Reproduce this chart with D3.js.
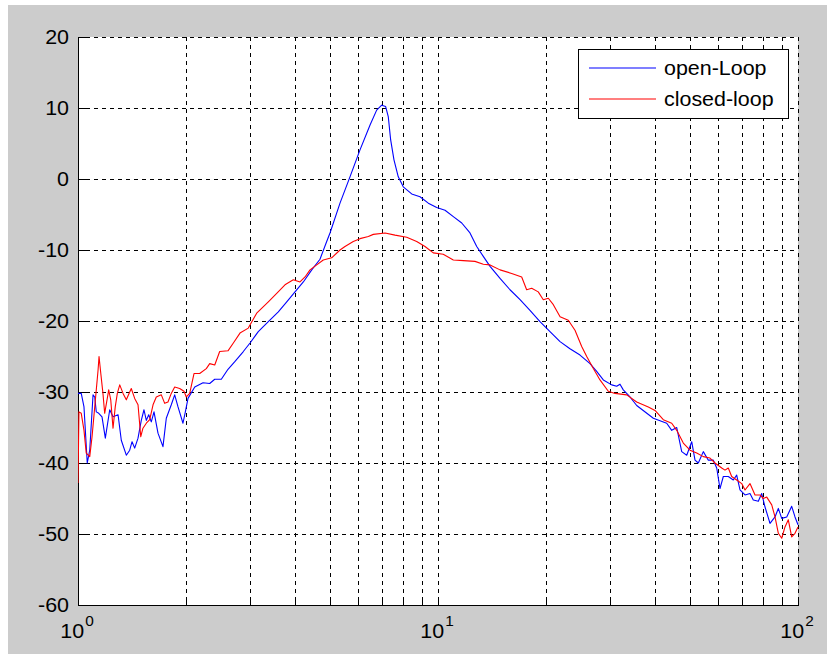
<!DOCTYPE html>
<html>
<head>
<meta charset="utf-8">
<script src="https://cdn.jsdelivr.net/npm/d3@7"></script>
<style>
  html, body { margin: 0; padding: 0; background: #ffffff; }
  svg { display: block; }
  text { font-family: "Liberation Sans", Arial, Helvetica, sans-serif; fill: #000; }
</style>
</head>
<body>
<svg id="chart" width="827" height="654"></svg>
<script>
// ---- data ----
const seriesNames = ["open-Loop", "closed-loop"];
const seriesColors = ["#0000ff", "#ff0000"];

const blueFreq = [1.000,1.021,1.039,1.061,1.078,1.101,1.113,1.124,1.142,1.166,1.191,1.225,1.251,1.292,1.319,1.362,1.392,1.413,1.437,1.468,1.499,1.525,1.548,1.572,1.598,1.626,1.668,1.722,1.759,1.816,1.856,1.896,1.957,1.987,2.021,2.110,2.225,2.322,2.398,2.501,2.610,2.730,2.879,3.005,3.168,3.378,3.601,3.800,4.007,4.226,4.460,4.701,4.907,5.012,5.343,5.695,6.072,6.475,6.755,6.975,7.155,7.275,7.388,7.546,7.756,8.008,8.451,8.913,9.399,9.918,10.46,11.03,11.64,12.27,12.81,13.36,13.95,14.87,15.85,16.90,18.01,19.20,20.47,21.83,23.26,24.80,26.44,27.59,28.79,30.38,31.36,32.03,32.71,34.15,35.64,39.64,43.18,44.59,46.04,47.53,49.08,50.67,51.75,52.86,54.57,56.35,58.18,59.46,60.72,62.02,64.03,66.11,67.56,69.01,71.26,73.56,75.13,77.58,79.29,80.98,83.61,86.33,88.18,90.11,93.04,96.05,98.10,100];
const blueDb = [-30.2,-30.2,-32.1,-40,-38.2,-30.4,-30.7,-32.8,-33,-33.5,-36.5,-32.5,-33.5,-33.2,-36.8,-38.9,-38.2,-37,-37.9,-36.5,-34,-32.5,-34,-33.2,-34.2,-32.8,-35.8,-37.7,-33.7,-31.8,-30.4,-32.1,-34.4,-32.8,-30.9,-29.3,-28.7,-28.8,-28.2,-28.2,-26.8,-25.7,-24.3,-23.1,-21.5,-20.1,-18.7,-17.3,-15.9,-14.5,-12.8,-11.3,-8.8,-7.6,-3.4,0.3,4.1,7.6,9.7,10.4,10.2,8.8,5.5,2.7,0.3,-1.1,-2.1,-2.5,-3.4,-4.0,-4.4,-5.3,-6.2,-7.6,-9.5,-10.9,-12.3,-14.0,-15.6,-17,-18.5,-20.1,-21.5,-22.9,-23.9,-24.8,-26,-27.1,-28.3,-29,-29.2,-28.9,-29.7,-30.7,-31.9,-33.7,-34.4,-35.4,-35.0,-38.4,-38.9,-37,-39.6,-40,-38.4,-39.6,-39.6,-40.7,-43.6,-41.9,-41.9,-42.4,-41.7,-43.8,-44.5,-44.3,-45.2,-45.4,-44.3,-46.2,-48.5,-47.6,-46.4,-47.8,-47.6,-46.1,-47.6,-48.7];

const redFreq = [1.000,1.006,1.021,1.039,1.054,1.078,1.094,1.113,1.124,1.137,1.144,1.157,1.173,1.186,1.206,1.217,1.233,1.251,1.269,1.286,1.306,1.334,1.362,1.406,1.437,1.468,1.494,1.515,1.548,1.582,1.616,1.650,1.704,1.741,1.778,1.816,1.856,1.916,1.970,1.999,2.043,2.100,2.178,2.272,2.322,2.398,2.475,2.610,2.701,2.818,2.972,3.136,3.378,3.564,3.758,3.963,4.137,4.272,4.411,4.603,4.801,5.066,5.343,5.516,5.816,6.072,6.404,6.612,7.126,7.597,8.188,8.726,9.202,9.703,10.34,11.03,11.76,12.67,13.36,13.95,14.87,16.02,17.08,17.63,18.21,18.99,19.61,20.25,20.91,21.83,23.01,24.02,25.07,25.89,27.01,28.18,29.72,31.02,33.44,35.64,38.39,40.07,42.25,44.59,46.04,48.02,50.12,52.32,54.57,56.95,58.81,61.38,62.69,64.03,65.43,67.56,69.77,71.26,73.56,75.96,78.42,80.11,81.88,84.54,86.33,88.18,90.11,92.02,93.99,96.05,98.10,100];
const redDb = [-42.8,-32.8,-33,-35.4,-38.6,-39.1,-36.3,-32.1,-29.7,-26.9,-25,-27.4,-30.2,-33,-30.9,-29.7,-31.1,-35.1,-32.1,-30.2,-29,-30.2,-31.1,-29.5,-30.9,-31.8,-36.3,-35.1,-34.4,-33.9,-31.8,-30.7,-30.4,-31.6,-31.4,-30.2,-29.3,-29.5,-29.9,-30.7,-30.2,-27.4,-27.4,-26.7,-26,-26.2,-24.3,-24.2,-23.1,-21.7,-21.0,-18.9,-17.3,-16.1,-14.9,-14.2,-14.5,-13.8,-12.8,-12.1,-11.4,-11.1,-10,-9.5,-8.8,-8.4,-8.1,-7.8,-7.6,-7.9,-8.2,-8.8,-9.5,-10.4,-10.6,-11.4,-11.5,-11.6,-12.0,-12.1,-12.8,-13.3,-13.8,-15.6,-15.4,-15.9,-17,-16.8,-17.7,-19.4,-19.9,-21.3,-23.6,-25,-26.7,-28.3,-29.9,-30.2,-30.4,-31.4,-32.1,-32.6,-33.9,-34.4,-35.4,-37.2,-38.2,-38.6,-39.1,-39.3,-40,-40.7,-41.0,-40.7,-41.9,-42.4,-42.9,-43.8,-42.9,-44.5,-44.5,-45,-44.8,-45.9,-47.6,-49.9,-50.6,-49,-48,-50.4,-49.9,-49];

const yTicks = [20, 10, 0, -10, -20, -30, -40, -50, -60];
const xMajor = [1, 10, 100];
const xMajorExp = ["0", "1", "2"];
const xMinor = [2, 3, 4, 5, 6, 7, 8, 9, 20, 30, 40, 50, 60, 70, 80, 90];

// ---- layout ----
const L = 78, R = 798, T = 37, B = 605;
const svg = d3.select("#chart");
const x = d3.scaleLog().domain([1, 100]).range([L, R]);
const y = d3.scaleLinear().domain([-60, 20]).range([B, T]);

// figure background (thin white border at top / left like the original)
svg.append("rect").attr("x", 0).attr("y", 0).attr("width", 827).attr("height", 654).attr("fill", "#ffffff");
svg.append("rect").attr("x", 8).attr("y", 5).attr("width", 819).attr("height", 649).attr("fill", "#cccccc");
svg.append("rect").attr("x", L).attr("y", T).attr("width", R - L).attr("height", B - T).attr("fill", "#ffffff");

// grid
const grid = svg.append("g").attr("stroke", "#000").attr("stroke-width", 1)
  .attr("stroke-dasharray", "4,4").attr("shape-rendering", "crispEdges");
grid.selectAll("line.h").data(yTicks).join("line").attr("class", "h")
  .attr("x1", L).attr("x2", R).attr("y1", d => Math.round(y(d)) + 0.5).attr("y2", d => Math.round(y(d)) + 0.5);
grid.selectAll("line.v").data(xMajor.concat(xMinor)).join("line").attr("class", "v")
  .attr("y1", T).attr("y2", B).attr("x1", d => Math.round(x(d)) + 0.5).attr("x2", d => Math.round(x(d)) + 0.5);

// axes (left and bottom, ticks inside)
const axisG = svg.append("g").attr("stroke", "#000").attr("stroke-width", 1).attr("shape-rendering", "crispEdges");
axisG.append("line").attr("x1", L + 0.5).attr("x2", L + 0.5).attr("y1", T).attr("y2", B + 1);
axisG.append("line").attr("x1", L).attr("x2", R + 1).attr("y1", B + 0.5).attr("y2", B + 0.5);
axisG.selectAll("line.yt").data(yTicks).join("line").attr("class", "yt")
  .attr("x1", L).attr("x2", L + 8).attr("y1", d => Math.round(y(d)) + 0.5).attr("y2", d => Math.round(y(d)) + 0.5);
axisG.selectAll("line.xt").data(xMajor).join("line").attr("class", "xt")
  .attr("y1", B).attr("y2", B - 8).attr("x1", d => Math.round(x(d)) + 0.5).attr("x2", d => Math.round(x(d)) + 0.5);
axisG.selectAll("line.xm").data(xMinor).join("line").attr("class", "xm")
  .attr("y1", B).attr("y2", B - 4).attr("x1", d => Math.round(x(d)) + 0.5).attr("x2", d => Math.round(x(d)) + 0.5);

// clip
svg.append("clipPath").attr("id", "plotclip").append("rect")
  .attr("x", L).attr("y", T).attr("width", R - L + 1).attr("height", B - T);

const line = d3.line().x(d => x(d[0])).y(d => y(d[1]));
const series = [d3.zip(blueFreq, blueDb), d3.zip(redFreq, redDb)];
const lines = svg.append("g").attr("clip-path", "url(#plotclip)");
lines.selectAll("path").data(series).join("path")
  .attr("d", line).attr("fill", "none")
  .attr("stroke", (d, i) => seriesColors[i]).attr("stroke-width", 1.1)
  .attr("stroke-linejoin", "round");

// tick labels
const SX = 1.1;
const fs = 19.5;
svg.append("g").selectAll("text").data(yTicks).join("text")
  .attr("transform", d => `translate(69,${y(d)}) scale(${SX},1)`)
  .attr("text-anchor", "end").attr("dy", "0.36em")
  .attr("font-size", fs).text(d => d);

const xl = svg.append("g").selectAll("text").data(xMajor).join("text")
  .attr("transform", d => `translate(${x(d) - 1},638) scale(${SX},1)`)
  .attr("text-anchor", "middle").attr("font-size", fs);
xl.append("tspan").text("10");
xl.append("tspan").attr("dy", -12).attr("dx", 1).attr("font-size", 14).text((d, i) => xMajorExp[i]);

// legend
const lg = svg.append("g");
lg.append("rect").attr("x", 578.5).attr("y", 49.5).attr("width", 210).attr("height", 69)
  .attr("fill", "#fff").attr("stroke", "#000").attr("stroke-width", 1).attr("shape-rendering", "crispEdges");
const rowsY = [68, 99];
seriesNames.forEach((name, i) => {
  lg.append("line").attr("x1", 589).attr("x2", 656).attr("y1", rowsY[i]).attr("y2", rowsY[i])
    .attr("stroke", seriesColors[i]).attr("stroke-width", 1.1);
  lg.append("text").attr("transform", `translate(664,${rowsY[i]}) scale(${SX},1)`)
    .attr("dy", "0.36em").attr("font-size", fs).text(name);
});
</script>
</body>
</html>
